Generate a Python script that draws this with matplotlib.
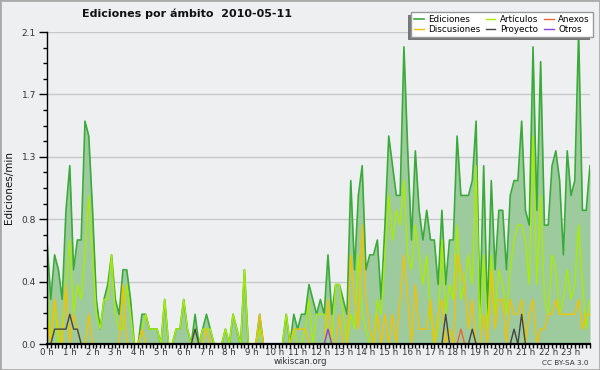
import numpy as np
import matplotlib
matplotlib.use("Agg")
import matplotlib.pyplot as plt
from matplotlib.patches import Rectangle
from matplotlib.ticker import FixedLocator, MultipleLocator

# ---- data: edits per minute, 10-minute bins (144 bins, 0h .. 23h50) ----
ediciones = [
    0.7, 0.3, 0.6, 0.5, 0.3, 0.9,
    1.2, 0.5, 0.7, 0.7, 1.5, 1.4,
    0.9, 0.3, 0.1, 0.3, 0.4, 0.6,
    0.3, 0.2, 0.5, 0.5, 0.3, 0.0,
    0.0, 0.2, 0.2, 0.1, 0.1, 0.1,
    0.0, 0.3, 0.0, 0.0, 0.1, 0.1,
    0.3, 0.1, 0.0, 0.2, 0.0, 0.1,
    0.2, 0.1, 0.0, 0.0, 0.0, 0.1,
    0.0, 0.2, 0.1, 0.0, 0.5, 0.0,
    0.0, 0.0, 0.2, 0.0, 0.0, 0.0,
    0.0, 0.0, 0.0, 0.2, 0.0, 0.2,
    0.1, 0.2, 0.2, 0.4, 0.3, 0.2,
    0.3, 0.2, 0.6, 0.2, 0.4, 0.4,
    0.3, 0.2, 1.1, 0.5, 1.0, 1.2,
    0.5, 0.6, 0.6, 0.7, 0.3, 0.8,
    1.4, 1.2, 1.0, 1.0, 2.0, 1.3,
    0.7, 1.3, 0.9, 0.7, 0.9, 0.7,
    0.7, 0.4, 0.9, 0.4, 0.7, 0.7,
    1.4, 1.0, 1.0, 1.0, 1.1, 1.5,
    0.2, 1.2, 0.2, 1.1, 0.5, 0.9,
    0.9, 0.5, 1.0, 1.1, 1.1, 1.5,
    0.9, 0.8, 2.0, 0.9, 1.9, 0.8,
    0.8, 1.2, 1.3, 1.1, 0.6, 1.3,
    1.0, 1.1, 2.1, 0.9, 0.9, 1.2,
]
articulos = [
    0.4, 0.0, 0.3, 0.0, 0.1, 0.4,
    0.7, 0.2, 0.4, 0.3, 0.6, 1.0,
    0.6, 0.2, 0.1, 0.3, 0.3, 0.6,
    0.2, 0.1, 0.1, 0.4, 0.2, 0.0,
    0.0, 0.1, 0.2, 0.1, 0.1, 0.1,
    0.0, 0.3, 0.0, 0.0, 0.1, 0.1,
    0.3, 0.1, 0.0, 0.1, 0.0, 0.1,
    0.1, 0.1, 0.0, 0.0, 0.0, 0.1,
    0.0, 0.2, 0.1, 0.0, 0.5, 0.0,
    0.0, 0.0, 0.1, 0.0, 0.0, 0.0,
    0.0, 0.0, 0.0, 0.2, 0.0, 0.1,
    0.0, 0.0, 0.1, 0.3, 0.0, 0.2,
    0.2, 0.2, 0.1, 0.0, 0.4, 0.4,
    0.2, 0.0, 0.2, 0.1, 0.6, 0.2,
    0.1, 0.0, 0.0, 0.3, 0.2, 0.6,
    1.0, 0.7, 0.9, 0.8, 1.1, 0.6,
    0.5, 0.8, 0.6, 0.4, 0.6, 0.2,
    0.0, 0.1, 0.7, 0.2, 0.4, 0.3,
    0.8, 0.3, 0.4, 0.6, 0.4, 1.2,
    0.1, 0.6, 0.1, 0.6, 0.2, 0.5,
    0.4, 0.2, 0.5, 0.7, 0.8, 0.8,
    0.7, 0.4, 1.4, 0.4, 1.0, 0.3,
    0.2, 0.6, 0.5, 0.2, 0.3, 0.5,
    0.3, 0.4, 0.8, 0.4, 0.1, 0.3,
]
discusiones = [
    0.2, 0.0, 0.3, 0.1, 0.0, 0.4,
    0.0, 0.2, 0.1, 0.0, 0.0, 0.2,
    0.0, 0.0, 0.0, 0.0, 0.0, 0.0,
    0.0, 0.0, 0.4, 0.0, 0.0, 0.0,
    0.0, 0.1, 0.0, 0.0, 0.0, 0.0,
    0.0, 0.0, 0.0, 0.0, 0.0, 0.0,
    0.0, 0.0, 0.0, 0.0, 0.0, 0.0,
    0.1, 0.0, 0.0, 0.0, 0.0, 0.0,
    0.0, 0.0, 0.0, 0.0, 0.0, 0.0,
    0.0, 0.0, 0.2, 0.0, 0.0, 0.0,
    0.0, 0.0, 0.0, 0.0, 0.0, 0.1,
    0.1, 0.1, 0.1, 0.0, 0.0, 0.0,
    0.0, 0.0, 0.3, 0.0, 0.0, 0.2,
    0.0, 0.0, 0.6, 0.3, 0.1, 0.8,
    0.3, 0.1, 0.0, 0.2, 0.0, 0.2,
    0.0, 0.2, 0.0, 0.3, 0.6, 0.3,
    0.0, 0.4, 0.1, 0.1, 0.1, 0.3,
    0.0, 0.2, 0.3, 0.0, 0.1, 0.0,
    0.6, 0.5, 0.4, 0.1, 0.3, 0.0,
    0.0, 0.2, 0.0, 0.5, 0.1, 0.3,
    0.3, 0.0, 0.3, 0.2, 0.2, 0.3,
    0.0, 0.2, 0.3, 0.0, 0.1, 0.1,
    0.2, 0.2, 0.3, 0.2, 0.2, 0.2,
    0.2, 0.2, 0.3, 0.1, 0.2, 0.2,
]
# sparse series: {bin index: value}, zero elsewhere
proyecto_peaks = {2: 0.1, 3: 0.1, 4: 0.1, 5: 0.1, 6: 0.2, 7: 0.1, 8: 0.1,
                  39: 0.1, 105: 0.2, 112: 0.1, 123: 0.1, 125: 0.2}
anexos_peaks = {109: 0.1}
otros_peaks = {74: 0.1}

hour_labels = [f"{h} h" for h in range(24)]
ytick_values = [0.0, 0.42, 0.84, 1.26, 1.68, 2.1]
title = "Ediciones por ámbito  2010-05-11"

n = len(ediciones)
x = np.arange(n) / 6.0

def sparse(peaks):
    arr = np.zeros(n)
    for k, v in peaks.items():
        arr[k] = v
    return arr

proyecto = sparse(proyecto_peaks)
anexos = sparse(anexos_peaks)
otros = sparse(otros_peaks)

BG = "#eeeff1"
fig = plt.figure(figsize=(6.0, 3.7), dpi=100)
fig.patch.set_facecolor(BG)
ax = fig.add_axes([47 / 600, 26 / 370, 543 / 600, 312 / 370])
ax.set_facecolor(BG)

ax.fill_between(x, ediciones, 0, color="#9ecb9e", lw=0, zorder=2)
ax.plot(x, ediciones, color="#3aab3a", lw=1.2, zorder=3, label="Ediciones")
ax.plot(x, articulos, color="#a8ec00", lw=1.0, zorder=4, label="Artículos")
ax.plot(x, discusiones, color="#f2c200", lw=1.0, zorder=5, label="Discusiones")
ax.plot(x, anexos, color="#ee6633", lw=1.0, zorder=6, label="Anexos")
ax.plot(x, proyecto, color="#444444", lw=1.0, zorder=6, label="Proyecto")
ax.plot(x, otros, color="#8844dd", lw=1.0, zorder=6, label="Otros")

ax.set_xlim(0, x[-1])
ax.set_ylim(0, 2.1)

for s in ["top", "right"]:
    ax.spines[s].set_visible(False)
ax.spines["left"].set_linewidth(1.0)
ax.spines["bottom"].set_linewidth(1.6)
ax.spines["left"].set_zorder(10)
ax.spines["bottom"].set_zorder(10)

ax.xaxis.set_major_locator(FixedLocator(range(24)))
ax.set_xticklabels(hour_labels)
ax.xaxis.set_minor_locator(MultipleLocator(1 / 6))
ax.yaxis.set_major_locator(FixedLocator(ytick_values))
ax.set_yticklabels([f"{v:.1f}" for v in ytick_values])
ax.yaxis.set_minor_locator(MultipleLocator(0.105))

ax.tick_params(axis="x", which="both", direction="out", length=3, width=1,
               labelsize=6.2, pad=0, colors="black", labelcolor="#333333")
ax.tick_params(axis="y", which="major", direction="out", length=6, width=1,
               labelsize=6.5, pad=2, labelcolor="#333333")
ax.tick_params(axis="y", which="minor", direction="out", length=3, width=1)

ax.grid(axis="y", which="major", color="#c8c8c8", lw=1.0, zorder=1)
ax.set_axisbelow(True)

fig.text(187 / 600, 1 - 14 / 370, title, ha="center", va="center",
         fontsize=8, fontweight="bold", color="#111111")
fig.text(9 / 600, 1 - 188 / 370, "Ediciones/min", rotation=90,
         ha="center", va="center", fontsize=7.5, color="#111111")
fig.text(300 / 600, 1 - 362 / 370, "wikiscan.org", ha="center", va="center",
         fontsize=6.2, color="#333333")
fig.text(589 / 600, 1 - 363 / 370, "CC BY-SA 3.0", ha="right", va="center",
         fontsize=5.2, color="#333333")

handles, labels = ax.get_legend_handles_labels()
order = ["Ediciones", "Discusiones", "Artículos", "Proyecto", "Anexos", "Otros"]
hmap = dict(zip(labels, handles))
leg = fig.legend([hmap[k] for k in order], order, ncol=3,
                 loc="upper right", bbox_to_anchor=(593 / 600, 1 - 12 / 370),
                 bbox_transform=fig.transFigure, fontsize=6.3,
                 frameon=True, fancybox=False, framealpha=1.0,
                 edgecolor="#999999", facecolor="white",
                 borderpad=0.35, labelspacing=0.1, handlelength=1.1,
                 handletextpad=0.55, columnspacing=0.6, borderaxespad=0)
leg.set_zorder(20)

fig.canvas.draw()
bb = leg.get_window_extent().transformed(fig.transFigure.inverted())
off_x, off_y = -3 / 600, -3 / 370
shadow = Rectangle((bb.x0 + off_x, bb.y0 + off_y), bb.width, bb.height,
                   transform=fig.transFigure, facecolor="#777777",
                   edgecolor="none", zorder=19)
fig.add_artist(shadow)

border = Rectangle((0, 0), 1, 1, transform=fig.transFigure, fill=False,
                   edgecolor="#aaaaaa", lw=2, zorder=30)
fig.add_artist(border)

fig.savefig("out.png", dpi=100, facecolor=BG)
